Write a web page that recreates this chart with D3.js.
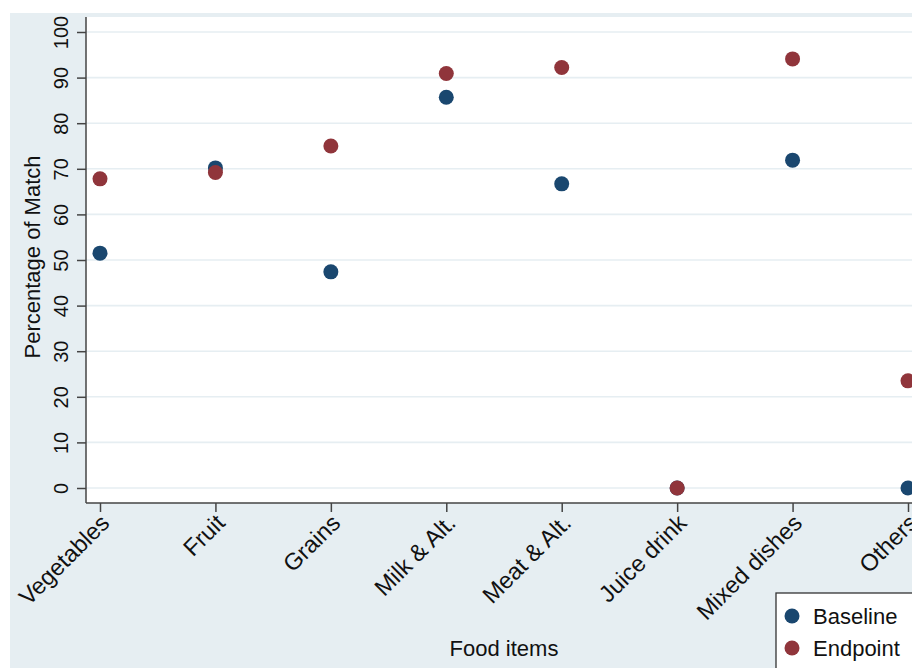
<!DOCTYPE html>
<html>
<head>
<meta charset="utf-8">
<script src="https://cdn.jsdelivr.net/npm/d3@7"></script>
<style>
  html, body { margin: 0; padding: 0; background: #ffffff; }
  svg { display: block; font-family: "Liberation Sans", Arial, sans-serif; }
</style>
</head>
<body>
<svg id="chart" width="912" height="668"></svg>
<script>
// Food item categories along the x axis
const categories = ["Vegetables", "Fruit", "Grains", "Milk & Alt.", "Meat & Alt.", "Juice drink", "Mixed dishes", "Others"];
// Percentage of match per food item
const baseline = [51.5, 70.2, 47.4, 85.7, 66.7, 0, 71.9, 0];
const endpoint = [67.8, 69.2, 75.0, 90.9, 92.2, 0, 94.1, 23.5];
const yTicks = [0, 10, 20, 30, 40, 50, 60, 70, 80, 90, 100];
const seriesNames = ["Baseline", "Endpoint"];
const seriesColors = ["#1a476f", "#90353b"];

const svg = d3.select("#chart");
const W = 912, H = 668;

// Outer graph region
svg.append("rect").attr("x", 10).attr("y", 13).attr("width", W).attr("height", H)
  .attr("fill", "#e6eef2");

const plot = { left: 86, top: 17, right: 930, bottom: 503 };
svg.append("rect").attr("x", plot.left).attr("y", plot.top)
  .attr("width", plot.right - plot.left).attr("height", plot.bottom - plot.top)
  .attr("fill", "#ffffff");

const x = d3.scalePoint().domain(categories).range([100, 908]);
const y = d3.scaleLinear().domain([0, 100]).range([488, 32]);

// Horizontal grid lines
svg.append("g").selectAll("line").data(yTicks).join("line")
  .attr("x1", plot.left).attr("x2", plot.right)
  .attr("y1", d => y(d)).attr("y2", d => y(d))
  .attr("stroke", "#e6eef2").attr("stroke-width", 1.6);

// Y axis
const yAxis = svg.append("g").attr("transform", `translate(${plot.left},0)`)
  .call(d3.axisLeft(y).tickValues(yTicks).tickSize(9).tickSizeOuter(0).tickFormat(d3.format("d")));
yAxis.select(".domain").attr("d", `M0,${plot.top}V${plot.bottom}`).attr("stroke", "#444").attr("stroke-width", 1.5);
yAxis.selectAll(".tick line").attr("stroke", "#444").attr("stroke-width", 1.5);
yAxis.selectAll(".tick text")
  .attr("x", null).attr("dy", null)
  .attr("transform", "translate(-18,0) rotate(-90)")
  .attr("text-anchor", "middle")
  .attr("font-size", 20).attr("fill", "#111")
  .attr("font-family", "Liberation Sans, Arial, sans-serif");

// X axis
const xAxis = svg.append("g").attr("transform", `translate(0,${plot.bottom})`)
  .call(d3.axisBottom(x).tickSize(9).tickSizeOuter(0));
xAxis.select(".domain").attr("d", `M${plot.left},0H${plot.right}`).attr("stroke", "#444").attr("stroke-width", 1.5);
xAxis.selectAll(".tick line").attr("stroke", "#444").attr("stroke-width", 1.5);
xAxis.selectAll(".tick text")
  .attr("y", null).attr("dy", null)
  .attr("transform", "translate(6,17) rotate(-45)")
  .attr("text-anchor", "end")
  .attr("dominant-baseline", "middle")
  .attr("font-size", 23.5).attr("fill", "#111")
  .attr("font-family", "Liberation Sans, Arial, sans-serif");

// Axis titles
svg.append("text").attr("transform", "translate(40,257) rotate(-90)")
  .attr("text-anchor", "middle").attr("font-size", 22).attr("fill", "#111")
  .text("Percentage of Match");
svg.append("text").attr("x", 504).attr("y", 656)
  .attr("text-anchor", "middle").attr("font-size", 22).attr("fill", "#111")
  .text("Food items");

// Markers: baseline first, endpoint drawn on top
const series = [baseline, endpoint];
series.forEach((vals, si) => {
  svg.append("g").selectAll("circle").data(vals).join("circle")
    .attr("cx", (d, i) => x(categories[i]))
    .attr("cy", d => y(d))
    .attr("r", 7.5)
    .attr("fill", seriesColors[si]);
});

// Legend
const lg = svg.append("g");
lg.append("rect").attr("x", 776).attr("y", 593).attr("width", 160).attr("height", 100)
  .attr("fill", "#ffffff").attr("stroke", "#333").attr("stroke-width", 1.3);
seriesNames.forEach((name, i) => {
  lg.append("circle").attr("cx", 792).attr("cy", 616 + i * 32).attr("r", 7.5).attr("fill", seriesColors[i]);
  lg.append("text").attr("x", 813).attr("y", 624 + i * 32)
    .attr("font-size", 22).attr("fill", "#111").text(name);
});
</script>
</body>
</html>
